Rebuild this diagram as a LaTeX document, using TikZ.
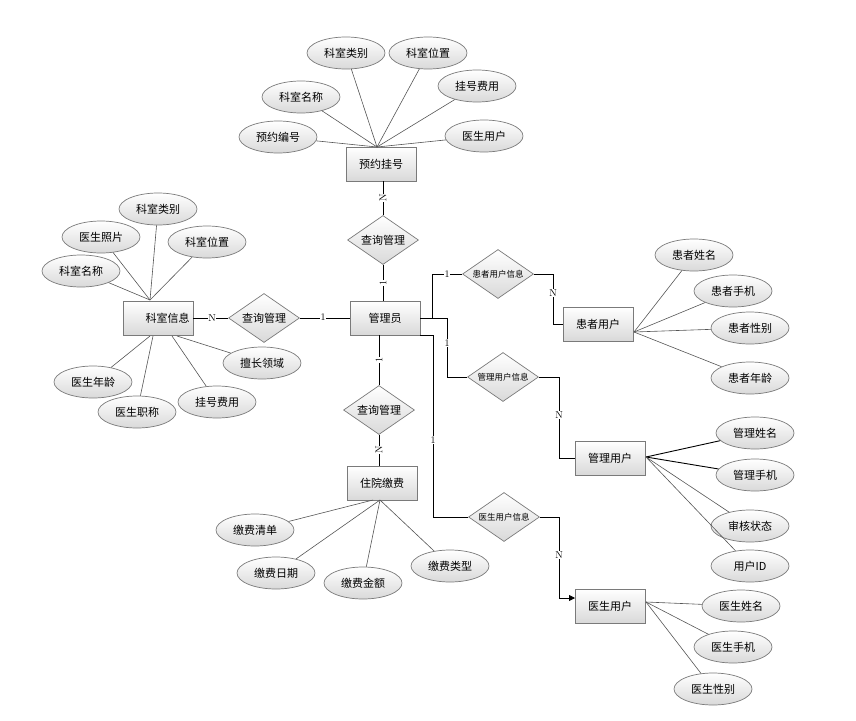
\documentclass[tikz,border=0pt]{standalone}
\usepackage{fontspec}
\newfontfamily\cjk{Noto Sans CJK SC}
\usetikzlibrary{shapes.geometric,arrows.meta}
\definecolor{bord}{HTML}{7A7A7A}
\definecolor{shadeb}{HTML}{D9D9D9}
\definecolor{attrline}{HTML}{555555}
\tikzset{
  ent/.style={rectangle, draw=bord, line width=0.9pt, top color=white, bottom color=shadeb,
    minimum width=70pt, minimum height=34pt, inner sep=0pt, font=\cjk\fontsize{11}{11}\selectfont},
  attr/.style={ellipse, draw=bord, line width=0.7pt, top color=white, bottom color=shadeb,
    minimum width=78pt, minimum height=32pt, inner sep=0pt, font=\cjk\fontsize{11}{11}\selectfont},
  rel/.style={diamond, draw=bord, line width=0.7pt, top color=white, bottom color=shadeb,
    minimum width=71pt, minimum height=49pt, inner sep=0pt},
  reltxt/.style={font=\cjk\fontsize{11}{11}\selectfont, inner sep=0pt},
  reltxts/.style={font=\cjk\fontsize{8.5}{8.5}\selectfont, inner sep=0pt},
  aline/.style={draw=attrline, line width=0.6pt},
  cline/.style={draw=black, line width=0.8pt},
  card/.style={fill=white, inner sep=0.6pt, font=\fontsize{10}{10}\selectfont},
}
\begin{document}
\begin{tikzpicture}[x=1pt, y=-1pt]
\useasboundingbox (0,0) rectangle (856,720);
% ---------- top cluster ----------
\node[ent] (yy) at (381,164) {预约挂号};
\node[attr] (t1) at (346,53) {科室类别};
\node[attr] (t2) at (428,53) {科室位置};
\node[attr] (t3) at (301,97) {科室名称};
\node[attr] (t4) at (477,86) {挂号费用};
\node[attr] (t5) at (278,137) {预约编号};
\node[attr] (t6) at (484,136) {医生用户};
\coordinate (yyT) at (377,147);
\foreach \a in {t1,t2,t3,t4,t5,t6} \draw[aline] (yyT) -- (\a);
% ---------- admin ----------
\node[ent] (adm) at (385,318) {管理员};
\node[rel] (r1) at (383,240) {};
\node[reltxt] (r1t) at (r1) {查询管理};
\draw[cline] (yy.south -| r1) -- (r1.north);
\draw[cline] (r1.south) -- (r1.south |- adm.north);
\node[card, rotate=90] (c1) at (383,198) {N};
\node[card, rotate=90] (c2) at (383,283) {1};
% ---------- left cluster ----------
\node[ent] (kx) at (158,318) {\hspace{19pt}科室信息};
\node[rel] (r2) at (264,318) {};
\node[reltxt] (r2t) at (r2) {查询管理};
\node[attr] (l1) at (158,209) {科室类别};
\node[attr] (l2) at (101,237) {医生照片};
\node[attr] (l3) at (207,242) {科室位置};
\node[attr] (l4) at (81,271) {科室名称};
\node[attr] (l5) at (93,382) {医生年龄};
\node[attr] (l6) at (137,412) {医生职称};
\node[attr] (l7) at (217,402) {挂号费用};
\node[attr] (l8) at (262,363) {擅长领域};
\coordinate (kxT) at (150,300);
\foreach \a in {l1,l2,l3,l4} \draw[aline] (kxT) -- (\a);
\coordinate (kb1) at (150,336);
\coordinate (kb2) at (153,336);
\coordinate (kb3) at (172,336);
\coordinate (kb4) at (177,336);
\draw[aline] (kb1) -- (l5);
\draw[aline] (kb2) -- (l6);
\draw[aline] (kb3) -- (l7);
\draw[aline] (kb4) -- (l8);
\draw[cline] (kx.east) -- (r2.west);
\draw[cline] (r2.east) -- (adm.west);
\node[card] (c3) at (212,318) {N};
\node[card] (c4) at (323,317) {1};
% ---------- bottom cluster ----------
\node[rel] (r3) at (379,410) {};
\node[reltxt] (r3t) at (r3) {查询管理};
\node[ent] (zy) at (382,483) {住院缴费};
\draw[cline] (adm.south -| r3) -- (r3.north);
\draw[cline] (r3.south) -- (r3.south |- zy.north);
\node[card, rotate=90] (c5) at (379,360) {1};
\node[card, rotate=90] (c6) at (379,450) {N};
\node[attr] (b1) at (255,530) {缴费清单};
\node[attr] (b2) at (276,573) {缴费日期};
\node[attr] (b3) at (363,583) {缴费金额};
\node[attr] (b4) at (450,566) {缴费类型};
\coordinate (zb1) at (373,500);
\coordinate (zb2) at (380,500);
\draw[aline] (zb1) -- (b1);
\draw[aline] (zb2) -- (b2);
\draw[aline] (zb2) -- (b3);
\draw[aline] (zb2) -- (b4);
% ---------- right relations ----------
\node[rel] (r4) at (498,274) {};
\node[reltxts] (r4t) at (r4) {患者用户信息};
\node[ent] (hz) at (598,324) {患者用户};
\node[rel] (r5) at (503,377) {};
\node[reltxts] (r5t) at (r5) {管理用户信息};
\node[ent] (gl) at (610,458) {管理用户};
\node[rel] (r6) at (504,517) {};
\node[reltxts] (r6t) at (r6) {医生用户信息};
\node[ent] (ys) at (610,606) {医生用户};
\coordinate (aR) at (420,318);
\coordinate (aRB) at (420,335);
\draw[cline] (aR) -- (432,318) |- (r4.west);
\draw[cline] (r4.east) -- (553,274) |- (hz.west);
\node[card] (c7) at (447,274) {1};
\node[card] (c8) at (553,293) {N};
\draw[cline] (aR) -- (447,318) |- (r5.west);
\draw[cline] (r5.east) -- (559,377) |- (gl.west);
\node[card] (c9) at (447,343) {1};
\node[card] (c10) at (559,415) {N};
\coordinate (ysIn) at (575,598);
\draw[cline] (aRB) -- (433,335) |- (r6.west);
\draw[cline, -{Triangle[length=6pt,width=6pt]}] (r6.east) -- (559,517) |- (ysIn);
\node[card] (c11) at (433,440) {1};
\node[card] (c12) at (559,555) {N};
% ---------- right attributes ----------
\node[attr] (p1) at (694,255) {患者姓名};
\node[attr] (p2) at (733,291) {患者手机};
\node[attr] (p3) at (750,328) {患者性别};
\node[attr] (p4) at (750,378) {患者年龄};
\coordinate (hzR) at (634,332);
\foreach \a in {p1,p2,p3,p4} \draw[aline] (hzR) -- (\a);
\node[attr] (g1) at (755,433) {管理姓名};
\node[attr] (g2) at (755,475) {管理手机};
\node[attr] (g3) at (750,526) {审核状态};
\node[attr] (g4) at (750,566) {用户ID};
\coordinate (glR) at (646,457);
\draw[draw=black, line width=0.9pt] (glR) -- (g1);
\draw[draw=black, line width=0.9pt] (glR) -- (g2);
\draw[aline] (glR) -- (g3);
\draw[aline] (glR) -- (g4);
\node[attr] (d1) at (741,606) {医生姓名};
\node[attr] (d2) at (733,647) {医生手机};
\node[attr] (d3) at (713,689) {医生性别};
\coordinate (ysR) at (646,602);
\foreach \a in {d1,d2,d3} \draw[aline] (ysR) -- (\a);
\end{tikzpicture}
\end{document}
